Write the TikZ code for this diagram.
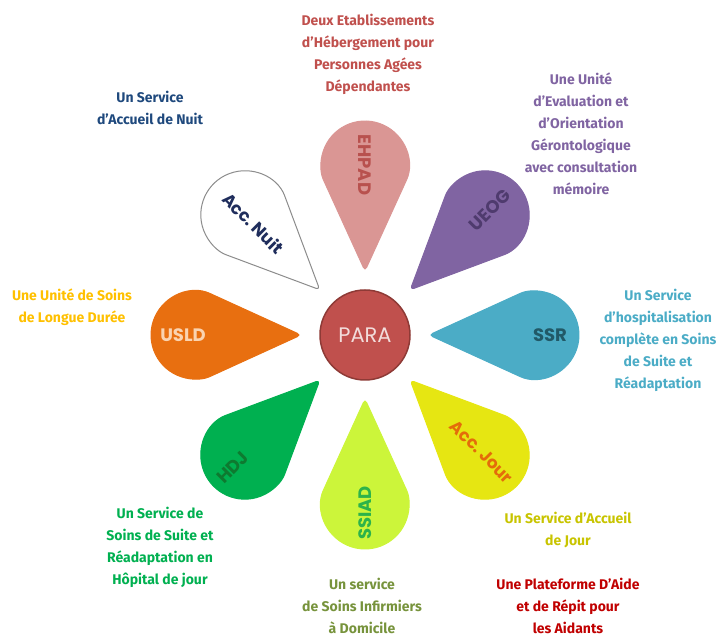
\documentclass[tikz,border=0pt]{standalone}
\usepackage{fontspec}
\setmainfont{Fira Sans}
\newfontfamily\petalfont{Poppins}

\definecolor{parared}{HTML}{C0504D}
\definecolor{paraborder}{HTML}{8E3A36}
\definecolor{paratext}{HTML}{F2DCDB}
\definecolor{ehpadfill}{HTML}{DA9694}
\definecolor{ehpadtext}{HTML}{B8514E}
\definecolor{ueogfill}{HTML}{8064A2}
\definecolor{ueogtext}{HTML}{4F3B6E}
\definecolor{ssrfill}{HTML}{4BACC6}
\definecolor{ssrtext}{HTML}{215967}
\definecolor{jourfill}{HTML}{E6E612}
\definecolor{jourtext}{HTML}{E46C0A}
\definecolor{ssiadfill}{HTML}{CCF53A}
\definecolor{ssiadtext}{HTML}{2DB34A}
\definecolor{hdjfill}{HTML}{00B050}
\definecolor{hdjtext}{HTML}{0E7A30}
\definecolor{usldfill}{HTML}{E86F10}
\definecolor{usldtext}{HTML}{FAD3B0}
\definecolor{nuitborder}{HTML}{8C8C8C}
\definecolor{nuittext}{HTML}{1F2D5C}
\definecolor{ehpadinfo}{HTML}{C0504D}
\definecolor{nuitinfo}{HTML}{1F497D}
\definecolor{ueoginfo}{HTML}{8064A2}
\definecolor{usldinfo}{HTML}{FFC000}
\definecolor{ssrinfo}{HTML}{4BACC6}
\definecolor{hdjinfo}{HTML}{00B050}
\definecolor{jourinfo}{HTML}{C8C400}
\definecolor{ssiadinfo}{HTML}{77933C}
\definecolor{aideinfo}{HTML}{C00000}

\begin{document}
\begin{tikzpicture}[x=1pt,y=1pt,
  petaltext/.style={font=\petalfont\bfseries\fontsize{18}{18}\selectfont},
  acctext/.style={font=\petalfont\bfseries\fontsize{17}{17}\selectfont,inner sep=0pt},
  infotext/.style={align=center,font=\bfseries\fontsize{14}{22}\selectfont}]
  \useasboundingbox (0,0) rectangle (718,637);

  \node[circle,fill=parared,draw=paraborder,line width=1.5pt,minimum size=90pt,
        text=paratext,font=\petalfont\fontsize{21}{21}\selectfont] (para) at (365,302) {PARA};

  \foreach \a/\fillc/\drawc in {90/ehpadfill/ehpadfill, 45/ueogfill/ueogfill,
      0/ssrfill/ssrfill, -45/jourfill/jourfill, -90/ssiadfill/ssiadfill,
      -135/hdjfill/hdjfill, 180/usldfill/usldfill, 135/white/nuitborder}
    \filldraw[fill=\fillc,draw=\drawc,line width=1pt,rounded corners=4pt]
      ([shift={(\a:64)}]para.center)
      -- ([shift={(\a:170)},shift={(\a-114.5:44)}]para.center)
      arc[start angle=\a-114.5,end angle=\a+114.5,radius=44] -- cycle;

  \node[petaltext,text=ehpadtext,rotate=-90] (ehpad) at ([shift={(90:170)}]para.center) {EHPAD};
  \node[petaltext,text=ueogtext,rotate=45] (ueog) at ([shift={(45:177)}]para.center) {UEOG};
  \node[petaltext,text=ssrtext] (ssr) at ([shift={(0:185)}]para.center) {SSR};
  \node[acctext,text=jourtext,rotate=-45] (jour) at ([shift={(-45:165)}]para.center) {Acc.~Jour};
  \node[petaltext,text=ssiadtext,rotate=90] (ssiad) at ([shift={(-90:178)}]para.center) {SSIAD};
  \node[petaltext,text=hdjtext,rotate=45] (hdj) at ([shift={(-135:187)}]para.center) {HDJ};
  \node[petaltext,text=usldtext] (usld) at ([shift={(180:182)}]para.center) {USLD};
  \node[acctext,text=nuittext,rotate=-45] (nuit) at ([shift={(135:158)}]para.center) {Acc.~Nuit};

  \node[infotext,text=ehpadinfo] (ehpadinfo) at (368,583)
    {Deux Etablissements\\d’Hébergement pour\\Personnes Agées\\Dépendantes};
  \node[infotext,text=nuitinfo] (nuitinfo) at (150,529) {Un Service\\d’Accueil de Nuit};
  \node[infotext,text=ueoginfo] (ueoginfo) at (581,503)
    {Une Unité\\d’Evaluation et\\d’Orientation\\Gérontologique\\avec consultation\\mémoire};
  \node[infotext,text=usldinfo] (usldinfo) at (72,330) {Une Unité de Soins\\de Longue Durée};
  \node[infotext,text=ssrinfo] (ssrinfo) at (658,297)
    {Un Service\\d’hospitalisation\\complète en Soins\\de Suite et\\Réadaptation};
  \node[infotext,text=hdjinfo] (hdjinfo) at (160,90)
    {Un Service de\\Soins de Suite et\\Réadaptation en\\Hôpital de jour};
  \node[infotext,text=jourinfo] (jourinfo) at (568,107) {Un Service d’Accueil\\de Jour};
  \node[infotext,text=ssiadinfo] (ssiadinfo) at (362,31)
    {Un service\\de Soins Infirmiers\\à Domicile};
  \node[infotext,text=aideinfo] (aideinfo) at (568,31)
    {Une Plateforme D’Aide\\et de Répit pour\\les Aidants};
\end{tikzpicture}
\end{document}
